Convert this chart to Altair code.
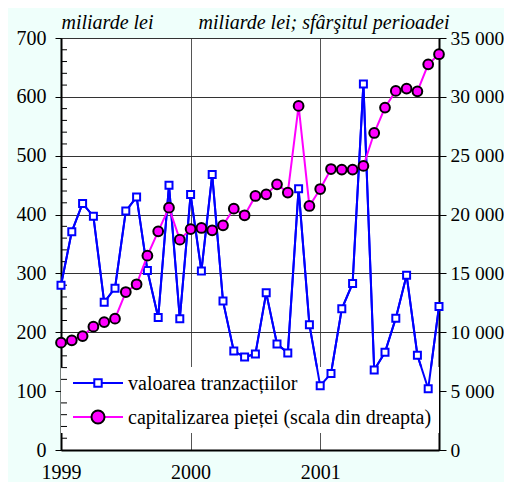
import altair as alt
import pandas as pd

# Monthly data, Jan 1999 - Dec 2001
luni = [1999 + i / 12 for i in range(36)]

valoarea_tranzactiilor = [
    280, 371, 419, 397, 251, 275, 406, 430, 305, 225, 450, 223,
    434, 304, 468, 253, 168, 158, 163, 267, 180, 165, 444, 213,
    109, 130, 240, 283, 622, 136, 166, 224, 297, 161, 104, 244,
]

capitalizarea_pietei = [
    9120, 9320, 9680, 10480, 10870, 11160, 13420, 14080, 16510, 18580, 20590, 17870,
    18770, 18860, 18660, 19090, 20500, 19940, 21580, 21720, 22570, 21870, 29230, 20730,
    22170, 23870, 23820, 23820, 24130, 26930, 29090, 30500, 30700, 30470, 32760, 33620,
]

ani_axa = [1999, 2000, 2001]
valori_stanga = list(range(0, 701, 100))
valori_dreapta = list(range(0, 35001, 5000))
taieturi_minore = [v for v in range(20, 700, 20) if v % 100 != 0]

eticheta_1 = "valoarea tranzacțiilor"
eticheta_2 = "capitalizarea pieței (scala din dreapta)"
titlu_stanga = "miliarde lei"
titlu_dreapta = "miliarde lei; sfârşitul perioadei"

df = pd.DataFrame({"t": luni, "val": valoarea_tranzactiilor, "cap": capitalizarea_pietei})
df_minor = pd.DataFrame({"val": taieturi_minore})
one = pd.DataFrame({"a": [0]})

FONT = "Liberation Serif, Times New Roman, Times, DejaVu Serif, serif"
BLUE = "#0000ff"
MAG = "#ff00ff"

W, H = 378, 412

x_axis = alt.Axis(
    values=ani_axa, format="d", title=None, grid=True, gridColor="#555555",
    gridWidth=1, tickSize=0, labelPadding=12, labelFontSize=20, labelFlush=False,
    labelFont=FONT, domainWidth=2, domainColor="black",
)
x_scale = alt.Scale(domain=[1999, 1999 + 35 / 12], nice=False, zero=False)

left_axis = alt.Axis(
    values=valori_stanga, grid=True, gridColor="#333333", gridWidth=1,
    tickSize=6, tickColor="black", labelPadding=9, labelFontSize=20, labelFont=FONT,
    domainWidth=2, domainColor="black",
    title=titlu_stanga, titleAngle=0, titleAlign="left", titleX=0, titleY=-10,
    titleBaseline="alphabetic", titleFontStyle="italic", titleFontWeight="normal",
    titleFontSize=20, titleFont=FONT,
)
right_axis = alt.Axis(
    orient="right", values=valori_dreapta, grid=False, tickSize=7,
    tickColor="black", labelPadding=4, labelFontSize=19.5, labelFont=FONT,
    domainWidth=2, domainColor="black",
    labelExpr="replace(format(datum.value, ','), ',', ' ')",
    title=titlu_dreapta, titleAngle=0, titleAlign="right", titleX=10, titleY=-10,
    titleBaseline="alphabetic", titleFontStyle="italic", titleFontWeight="normal",
    titleFontSize=20, titleFont=FONT,
)

yleft_scale = alt.Scale(domain=[0, 700], nice=False)
yright_scale = alt.Scale(domain=[0, 35000], nice=False)


def X():
    return alt.X("t:Q", scale=x_scale, axis=x_axis)


def YL():
    return alt.Y("val:Q", scale=yleft_scale, axis=left_axis)


def YR():
    return alt.Y("cap:Q", scale=yright_scale, axis=right_axis)


blue_line = alt.Chart(df).mark_line(color=BLUE, strokeWidth=2).encode(x=X(), y=YL())

legend_box = alt.Chart(one).mark_rect(color="white").encode(
    x=alt.value(0), x2=alt.value(W), y=alt.value(329), y2=alt.value(395)
)

minor = alt.Chart(df_minor).mark_rule(color="black", strokeWidth=1).encode(
    y=YL(), x=alt.value(0), x2=alt.value(6),
)

blue_pts = alt.Chart(df).mark_point(
    shape="square", filled=True, fill="white", stroke=BLUE, strokeWidth=2, size=49, opacity=1
).encode(x=X(), y=YL())

# manual legend
leg_line1 = alt.Chart(one).mark_rule(color=BLUE, strokeWidth=2).encode(
    x=alt.value(12), x2=alt.value(62), y=alt.value(345)
)
leg_sym1 = alt.Chart(one).mark_point(
    shape="square", filled=True, fill="white", stroke=BLUE, strokeWidth=2, size=55, opacity=1
).encode(x=alt.value(37), y=alt.value(345))
leg_txt1 = alt.Chart(pd.DataFrame({"txt": [eticheta_1]})).mark_text(
    align="left", baseline="middle", font=FONT, fontSize=20, color="black"
).encode(x=alt.value(67), y=alt.value(346), text="txt:N")

leg_line2 = alt.Chart(one).mark_rule(color=MAG, strokeWidth=2).encode(
    x=alt.value(12), x2=alt.value(62), y=alt.value(379)
)
leg_sym2 = alt.Chart(one).mark_point(
    shape="circle", filled=True, fill=MAG, stroke="black", strokeWidth=2, size=170, opacity=1
).encode(x=alt.value(37), y=alt.value(379))
leg_txt2 = alt.Chart(pd.DataFrame({"txt": [eticheta_2]})).mark_text(
    align="left", baseline="middle", font=FONT, fontSize=20, color="black"
).encode(x=alt.value(67), y=alt.value(380), text="txt:N")

left = alt.layer(blue_line, legend_box, minor, blue_line, blue_pts,
                 leg_line1, leg_sym1, leg_txt1, leg_line2, leg_sym2, leg_txt2)

mag_line = alt.Chart(df).mark_line(color=MAG, strokeWidth=2).encode(x=X(), y=YR())
mag_pts = alt.Chart(df).mark_point(
    shape="circle", filled=True, fill=MAG, stroke="black", strokeWidth=2, size=95, opacity=1
).encode(x=X(), y=YR())

right = alt.layer(mag_line, mag_pts)

chart = (
    alt.layer(left, right)
    .resolve_scale(y="independent")
    .properties(
        width=W, height=H,
        background="#effffb",
        padding={"left": 53, "top": 30, "right": 65, "bottom": 32},
        autosize=alt.AutoSizeParams(type="none"),
    )
    .configure_view(fill="white", stroke="black", strokeWidth=1)
    .configure_axis(labelFont=FONT, labelColor="black", titleColor="black")
)

chart.save("out.html", embed_options={"renderer": "svg", "actions": False})
